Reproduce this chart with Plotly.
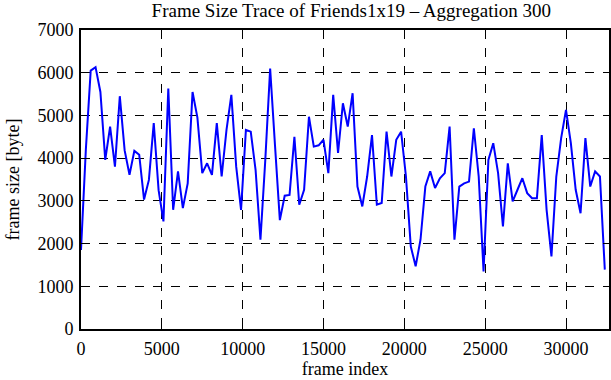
import plotly.graph_objects as go

# Aggregated frame sizes (every 300 frames)
step = 300
frame_size = [
    1850, 4200, 6050, 6130, 5550, 3960, 4740, 3800, 5450, 4180,
    3610, 4170, 4080, 3030, 3490, 4820, 3250, 2520, 5630, 2790,
    3690, 2830, 3410, 5550, 4950, 3650, 3880, 3610, 4820, 3570,
    4660, 5480, 3800, 2790, 4660, 4620, 3720, 2090, 3960, 6100,
    4300, 2550, 3120, 3140, 4500, 2910, 3260, 4970, 4270, 4300,
    4430, 3650, 5480, 4120, 5285, 4740, 5520, 3335, 2870, 3570,
    4540, 2910, 2950, 4620, 3570, 4430, 4620, 3570, 1930, 1470,
    2090, 3335, 3690, 3300, 3530, 3650, 4740, 2090, 3335, 3410,
    3450, 4700, 3570, 1350, 3960, 4350, 3650, 2400, 3880, 2990,
    3260, 3530, 3180, 3060, 3060, 4540, 2790, 1700, 3570, 4470,
    5130, 4350, 3260, 2710, 4470, 3335, 3690, 3570, 1390,
]
frame_index = [i * step for i in range(len(frame_size))]

x_ticks = [0, 5000, 10000, 15000, 20000, 25000, 30000]
y_ticks = [0, 1000, 2000, 3000, 4000, 5000, 6000, 7000]

family = "Liberation Serif, Times New Roman, serif"
font = dict(family=family, size=18, color="black")
title_font = dict(family=family, size=19, color="black")

fig = go.Figure()
fig.add_trace(go.Scatter(
    x=frame_index, y=frame_size, mode="lines",
    line=dict(color="#0000ff", width=2), showlegend=False,
))

axis_common = dict(
    showline=True, linecolor="black", linewidth=2, mirror="ticks",
    ticks="inside", ticklen=6, tickcolor="black", tickwidth=1,
    showgrid=True, gridcolor="black", griddash="dash", gridwidth=1,
    zeroline=False, tickfont=font, automargin=False,
)

fig.update_layout(
    width=611, height=380,
    margin=dict(l=81, r=2, t=30, b=51),
    paper_bgcolor="white", plot_bgcolor="white",
    font=font,
    title=dict(text="Frame Size Trace of Friends1x19 \u2013 Aggregation 300",
               x=0.575, xanchor="center", y=0.972, yanchor="middle", font=title_font),
    xaxis=dict(range=[0, 32660], tickvals=x_ticks, ticktext=[str(v) for v in x_ticks],
               ticklabelstandoff=2,
               title=dict(text="frame index", font=font, standoff=2), **axis_common),
    yaxis=dict(range=[0, 7000], tickvals=y_ticks, ticktext=[str(v) for v in y_ticks],
               ticklabelstandoff=2,
               title=dict(text="frame size [byte]", font=font, standoff=13), **axis_common),
)

fig.write_html("out.html", config={"displayModeBar": False})

# remove the default page margin so the figure fills the window exactly
with open("out.html", "r", encoding="utf-8") as f:
    html = f.read()
html = html.replace("<head>", "<head><style>html,body{margin:0;padding:0;overflow:hidden;}</style>", 1)
with open("out.html", "w", encoding="utf-8") as f:
    f.write(html)
